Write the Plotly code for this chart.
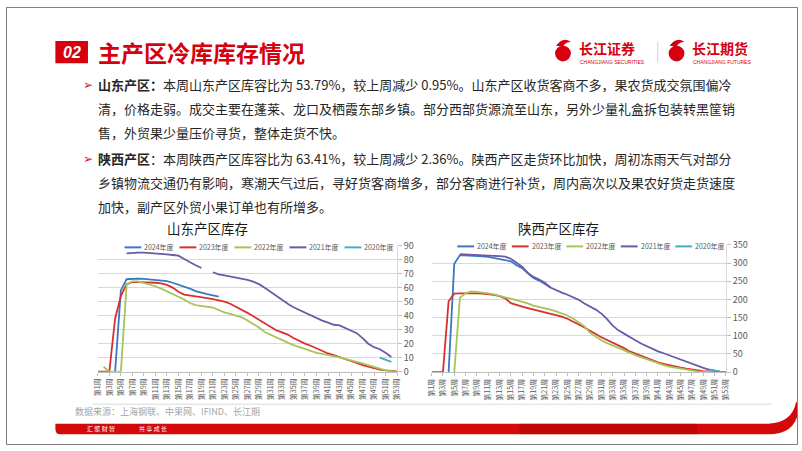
import plotly.graph_objects as go

W, H = 802, 451
FONT = "Noto Sans CJK SC"

weeks = [f"第{i}周" for i in range(1, 54)]
tick_weeks = [f"第{i}周" for i in range(1, 54, 2)]
series_names = ["2024年度", "2023年度", "2022年度", "2021年度", "2020年度"]
series_colors = ["#3A78C2", "#D8302C", "#A6C457", "#6A5AA8", "#43ADC8"]

N = None
# 山东产区库存 (万吨)
sd_2024 = [N, N, N, 0, 58, 66, 66.5, 66.5, 66.3, 66, 65.7, 65.3, 64.7, 63.5, 62.2, 61, 59.3, 57.5, 56.3, 55.3,
           54.5, 53.5] + [N] * 31
sd_2023 = [0, 0, 0, 38, 54, 62.5, 64, 64, 64, 63.8, 63.5, 63, 62, 60, 57, 55, 54.5, 54, 53.2, 52.5,
           51.8, 51, 50, 48.5, 46.5, 44.5, 42, 39.5, 37, 34, 31.5, 29.6, 28, 26.5, 24, 21.8, 20, 18.5, 16.5, 14.5,
           13, 11.8, 10.5, 9, 7.8, 6.2, 4.7, 3.5, 2.3, 1.5, 1, 0.5, 0.2]
sd_2022 = [N, 3.5, 0, 0, 0, 62, 64.5, 64.5, 63.5, 62.5, 61, 59.3, 57.5, 55.8, 53.5, 51.5, 49, 47.5, 47, 46.5,
           45.8, 44, 42.3, 41.2, 40, 38.8, 36.5, 34.3, 31.5, 28.3, 26.3, 24.5, 22.5, 20.7, 19, 17.5, 16, 14.7, 13.4, 12.7,
           12, 11, 10.2, 9.2, 8.2, 7.2, 6, 4.6, 3.3, 2, 1, 0.3, 0]
sd_2021 = [N, N, N, N, N, 84.5, 85, 85, 85, 84.8, 84.5, 84.2, 83.8, 83.3, 82.8, 80.5, 78, 76, 74, N,
           71, 69.5, 68.8, 68, 67.3, 66.5, 65.5, 64.3, 62.5, 60, 57, 54, 51, 48.5, 46, 44, 42, 40, 38.3, 36.5,
           35, 33.5, 33, 31, 29, 27.5, 24, 20, 17.5, 16, 13.5, 10.5, N]
sd_2020 = [N] * 49 + [10, 8.5, 7, N]

# 陕西产区库存 (万吨)
sx_2024 = [N, N, N, 0, 298, 322, 321.5, 321, 320, 318.5, 317, 314, 311.5, 309, 305, 294, 286, 272, 259, 252,
           243, 233] + [N] * 31
sx_2023 = [0, 0, 0, 195, 216, 217, 217.5, 217.5, 217, 216, 214.5, 212.5, 209, 203, 190, 184, 180, 176, 172, 168,
           165, 161, 158, 153, 147, 140, 131, 123, 115, 105, 96, 89, 82, 74, 66, 57, 51, 45, 38, 32,
           27, 23, 19, 15.5, 12.5, 9.5, 7, 4.5, 3, 1.8, 1, 0.5, 0.2]
sx_2022 = [N, N, N, N, 0, 205, 217, 222, 221, 220, 217, 214, 211, 206, 202, 198, 194, 189, 183, 180,
           176, 172, 167, 162, 156, 147.5, 137, 126, 108, 97, 88, 80, 73, 66, 59, 53, 47, 41.5, 35.5, 29.5,
           24, 19.5, 15.5, 12.5, 9.5, 7, 4, 2.2, 1.2, 0.5, 0, 0, N]
sx_2021 = [N, N, N, N, N, 325, 324.5, 324, 323, 322, 321, 320, 319, 318, 312, 300, 290, 273, 262, 255,
           246, 233, 225, 219, 213, 207, 199, 189, 181, 172, 161, 146, 128, 115, 106, 96, 88, 79, 71, 64,
           57, 52, 46, 40, 35, 29, 24, 18, 12, 7, 3, 1, N]
sx_2020 = [N] * 49 + [8, 4.5, 1.5, 0]

sd_series = [sd_2024, sd_2023, sd_2022, sd_2021, sd_2020]
sx_series = [sx_2024, sx_2023, sx_2022, sx_2021, sx_2020]


def fx(x):
    return x / W


def fy(y):
    return 1 - y / H


fig = go.Figure()
for name, color, vals in zip(series_names, series_colors, sd_series):
    fig.add_trace(go.Scatter(x=weeks, y=vals, name=name, mode="lines", xaxis="x", yaxis="y",
                             line=dict(color=color, width=1.8), showlegend=False))
for name, color, vals in zip(series_names, series_colors, sx_series):
    fig.add_trace(go.Scatter(x=weeks, y=vals, name=name, mode="lines", xaxis="x2", yaxis="y2",
                             line=dict(color=color, width=1.8), showlegend=False))

xcommon = dict(type="category", categoryorder="array", categoryarray=weeks, tickvals=tick_weeks,
               tickangle=-90, tickfont=dict(size=7, color="#595959", family=FONT), showgrid=False,
               showline=True, linecolor="#BFBFBF", ticks="outside", ticklen=3, tickcolor="#BFBFBF",
               zeroline=False, fixedrange=True)
ycommon = dict(side="right", showgrid=True, gridcolor="#D9D9D9", gridwidth=1, zeroline=False,
               showline=True, linecolor="#D9D9D9", ticks="outside", ticklen=4, tickcolor="#BFBFBF",
               tickfont=dict(size=9, color="#595959", family=FONT), fixedrange=True)

fig.update_layout(
    width=W, height=H, margin=dict(l=0, r=0, t=0, b=0),
    paper_bgcolor="white", plot_bgcolor="white", showlegend=False,
    xaxis=dict(domain=[fx(93), fx(396)], anchor="y", **xcommon),
    yaxis=dict(domain=[fy(375.5), fy(245.7)], anchor="x", range=[0, 90], dtick=10, **ycommon),
    xaxis2=dict(domain=[fx(431), fx(729)], anchor="y2", **xcommon),
    yaxis2=dict(domain=[fy(376), fy(245)], anchor="x2", range=[0, 350], dtick=50, **ycommon),
)

shapes = []
ann = []

# manual legends (compact, like the original Excel charts)
for x0, step, ly in [(120, 55.7, 247.5), (457, 55.2, 246.5)]:
    for i, (name, color) in enumerate(zip(series_names, series_colors)):
        lx = x0 + i * step
        shapes.append(dict(type="line", xref="paper", yref="paper", x0=fx(lx), x1=fx(lx + 17),
                           y0=fy(ly), y1=fy(ly), line=dict(color=color, width=2)))
        ann.append(dict(text=name, x=fx(lx + 18), y=fy(ly), xanchor="left", yanchor="middle",
                        font=dict(size=7, color="#595959", family=FONT)))

# chart titles
ann.append(dict(text="山东产区库存", x=fx(204), y=fy(228), xanchor="center", yanchor="middle",
                font=dict(size=13.5, color="#1a1a1a", family=FONT)))
ann.append(dict(text="陕西产区库存", x=fx(559), y=fy(228), xanchor="center", yanchor="middle",
                font=dict(size=13.5, color="#1a1a1a", family=FONT)))

# header
shapes.append(dict(type="rect", xref="paper", yref="paper", x0=fx(50), x1=fx(83), y0=fy(58), y1=fy(35),
                   fillcolor="#D7000F", line=dict(width=0)))
ann.append(dict(text="<b><i>02</i></b>", x=fx(66.5), y=fy(46.5), xanchor="center", yanchor="middle",
                font=dict(size=16, color="white", family="Liberation Sans")))
ann.append(dict(text="<b>主产区冷库库存情况</b>", x=fx(91), y=fy(46.5), xanchor="left", yanchor="middle",
                font=dict(size=23, color="#D7000F", family=FONT)))

# logos
for cx, t1, t2 in [(564, "长江证券", "CHANGJIANG SECURITIES"), (679, "长江期货", "CHANGJIANG FUTURES")]:
    shapes.append(dict(type="circle", xref="paper", yref="paper", x0=fx(cx - 8), x1=fx(cx + 8),
                       y0=fy(56), y1=fy(40), fillcolor="#D7000F", line=dict(width=0)))
    shapes.append(dict(type="path", xref="paper", yref="paper",
                       path=f"M{fx(cx - 7)},{fy(40)} Q{fx(cx)},{fy(30)} {fx(cx + 8)},{fy(36)} "
                            f"Q{fx(cx + 2)},{fy(36)} {fx(cx)},{fy(41)} Z",
                       fillcolor="#D7000F", line=dict(width=0)))
    ann.append(dict(text=f"<b>{t1}</b>", x=fx(cx + 14), y=fy(42.5), xanchor="left", yanchor="middle",
                    font=dict(size=14, color="#D7000F", family=FONT)))
    ann.append(dict(text=t2, x=fx(cx + 15), y=fy(56.5), xanchor="left", yanchor="middle",
                    font=dict(size=5, color="#D7000F", family="Liberation Sans")))
shapes.append(dict(type="line", xref="paper", yref="paper", x0=fx(660), x1=fx(660), y0=fy(36), y1=fy(57),
                   line=dict(color="#D0D0D0", width=1)))

# bullet text
lines = [
    (80, True, "<b>山东产区：</b>本周山东产区库容比为 53.79%，较上周减少 0.95%。山东产区收货客商不多，果农货成交氛围偏冷"),
    (104.5, False, "清，价格走弱。成交主要在蓬莱、龙口及栖霞东部乡镇。部分西部货源流至山东，另外少量礼盒拆包装转黑筐销"),
    (129, False, "售，外贸果少量压价寻货，整体走货不快。"),
    (156, True, "<b>陕西产区</b>：本周陕西产区库容比为 63.41%，较上周减少 2.36%。陕西产区走货环比加快，周初冻雨天气对部分"),
    (180.5, False, "乡镇物流交通仍有影响，寒潮天气过后，寻好货客商增多，部分客商进行补货，周内高次以及果农好货走货速度"),
    (205, False, "加快，副产区外贸小果订单也有所增多。"),
]
for ly, bullet, txt in lines:
    if bullet:
        ann.append(dict(text="➢", x=fx(76), y=fy(ly), xanchor="left", yanchor="middle",
                        font=dict(size=12, color="#E0201A", family="DejaVu Sans")))
    ann.append(dict(text=txt, x=fx(91), y=fy(ly), xanchor="left", yanchor="middle",
                    font=dict(size=13, color="#262626", family=FONT)))

# separator and footer
shapes.append(dict(type="line", xref="paper", yref="paper", x0=fx(88), x1=fx(775), y0=fy(409), y1=fy(409),
                   line=dict(color="#DADADA", width=1)))
ann.append(dict(text="数据来源：上海钢联、中果网、IFIND、长江期", x=fx(68), y=fy(416), xanchor="left",
                yanchor="middle", font=dict(size=9, color="#A6A6A6", family=FONT)))
band = (f"M{fx(50)},{fy(429)} L{fx(772)},{fy(429)} Q{fx(796)},{fy(428)} {fx(800)},{fy(407)} "
        f"L{fx(802)},{fy(407)} L{fx(802)},{fy(418)} Q{fx(798)},{fy(440)} {fx(772)},{fy(440)} "
        f"L{fx(55)},{fy(440)} Q{fx(50)},{fy(440)} {fx(50)},{fy(434.5)} Z")
shapes.append(dict(type="path", xref="paper", yref="paper", path=band, fillcolor="#D40A0A",
                   line=dict(width=0)))
shapes.append(dict(type="rect", xref="paper", yref="paper", x0=fx(520), x1=fx(700), y0=fy(440), y1=fy(429),
                   fillcolor="#A00000", opacity=0.35, line=dict(width=0)))
ann.append(dict(text="汇 聚 财 智", x=fx(80), y=fy(434.5), xanchor="left", yanchor="middle",
                font=dict(size=6, color="white", family=FONT)))
ann.append(dict(text="共 享 成 长", x=fx(133), y=fy(434.5), xanchor="left", yanchor="middle",
                font=dict(size=6, color="white", family=FONT)))

# slide border
shapes.append(dict(type="rect", xref="paper", yref="paper", x0=fx(0.5), x1=fx(801.5), y0=fy(450.5),
                   y1=fy(0.5), line=dict(color="#808080", width=1)))

for a in ann:
    a.update(xref="paper", yref="paper", showarrow=False)
fig.update_layout(shapes=shapes, annotations=ann)

# drop the default page margin so the figure sits at the window's top-left corner
fig.write_html("out.html", config={"displayModeBar": False},
               post_script="document.body.style.margin='0';document.body.style.overflow='hidden';")
